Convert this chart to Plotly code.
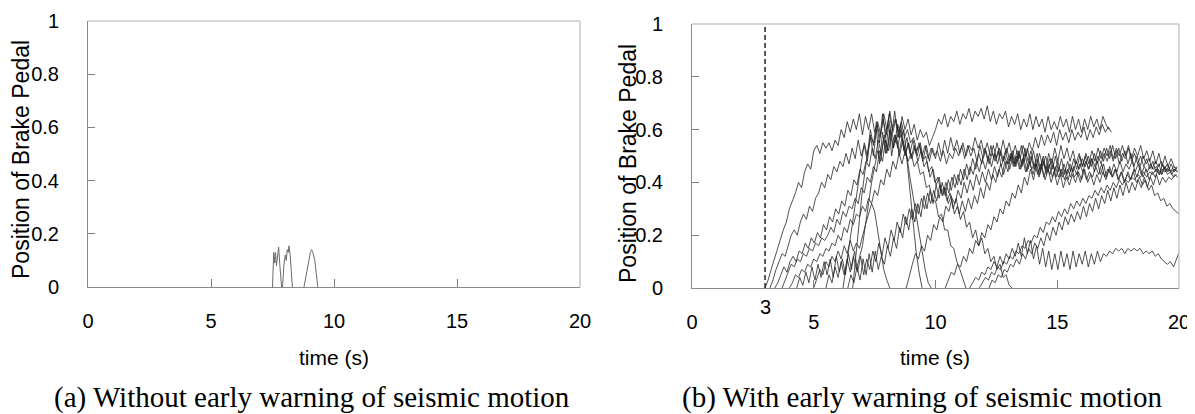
import plotly.graph_objects as go

# ---------------- data ----------------
WARNING_TIME = 3
X_TICKS = [0, 5, 10, 15, 20]
Y_TICKS = [0, 0.2, 0.4, 0.6, 0.8, 1]
Y_TICK_TEXT = ["0", "0.2", "0.4", "0.6", "0.8", "1"]

# (a) without early warning: three short presses (time, position)
a1_t = [7.50, 7.52, 7.55, 7.59, 7.62, 7.66, 7.70, 7.75, 7.80, 7.87]
a1_v = [0.00, 0.12, 0.13, 0.09, 0.13, 0.08, 0.12, 0.15, 0.08, 0.00]
a2_t = [7.91, 7.96, 8.02, 8.06, 8.10, 8.14, 8.17, 8.22, 8.27, 8.31]
a2_v = [0.00, 0.08, 0.12, 0.10, 0.14, 0.13, 0.155, 0.12, 0.05, 0.00]
a3_t = [8.78, 8.85, 8.92, 8.98, 9.04, 9.09, 9.14, 9.18, 9.22, 9.28, 9.34]
a3_v = [0.00, 0.04, 0.07, 0.10, 0.13, 0.14, 0.13, 0.11, 0.10, 0.05, 0.00]

# (b) with early warning: each driver sampled every 0.125 s from its start time
SAMPLE_DT = 0.125
b01_start = 3.0
b01 = [0.00,0.03,0.07,0.11,0.15,0.18,0.22,0.25,
       0.30,0.33,0.36,0.40,0.38,0.44,0.47,0.45,
       0.52,0.54,0.51,0.55,0.53,0.55,0.52,0.56,
       0.54,0.60,0.57,0.63,0.59,0.64,0.60,0.66,
       0.58,0.65,0.60,0.66,0.59,0.63,0.58,0.66,
       0.60,0.67,0.59,0.64,0.57,0.65,0.60,0.64,
       0.58,0.62,0.56,0.60,0.57,0.59,0.54,0.57,
       0.60,0.64,0.62,0.66,0.61,0.65,0.63,0.67,
       0.62,0.66,0.64,0.68,0.63,0.67,0.65,0.68,
       0.64,0.69,0.63,0.67,0.62,0.66,0.64,0.67,
       0.61,0.65,0.62,0.66,0.60,0.64,0.61,0.66,
       0.60,0.65,0.61,0.64,0.59,0.65,0.60,0.63,
       0.60,0.65,0.61,0.64,0.59,0.65,0.60,0.64,
       0.59,0.64,0.60,0.65,0.61,0.64,0.60,0.65,
       0.62,0.60]
b02_start = 3.2
b02 = [0.00,0.03,0.07,0.10,0.13,0.12,0.16,0.20,
       0.22,0.20,0.25,0.28,0.26,0.31,0.29,0.34,
       0.36,0.40,0.38,0.43,0.41,0.46,0.44,0.48,
       0.46,0.51,0.47,0.53,0.49,0.56,0.50,0.54,
       0.48,0.58,0.50,0.60,0.47,0.59,0.51,0.62,
       0.50,0.58,0.53,0.60,0.52,0.57,0.51,0.56,
       0.51,0.55,0.50,0.54,0.49,0.53,0.50,0.52,
       0.48,0.52,0.47,0.51,0.49,0.53,0.50,0.54,
       0.49,0.54,0.50,0.53,0.48,0.54,0.49,0.52,
       0.47,0.51,0.48,0.52,0.46,0.50,0.47,0.51,
       0.46,0.50,0.45,0.49,0.44,0.48,0.45,0.47,
       0.43,0.47,0.42,0.46,0.43,0.47,0.42,0.46,
       0.42,0.45,0.41,0.46,0.42,0.44,0.40,0.45,
       0.41,0.44,0.42,0.46,0.43,0.47,0.42,0.45,
       0.43,0.47,0.44,0.48,0.44,0.47,0.45,0.48,
       0.44,0.47,0.43,0.46,0.44,0.47,0.45,0.46,
       0.43,0.47,0.44,0.46,0.43,0.45,0.44]
b03_start = 3.4
b03 = [0.00,0.02,0.05,0.08,0.06,0.10,0.12,0.10,
       0.14,0.13,0.17,0.15,0.19,0.17,0.21,0.19,
       0.24,0.22,0.27,0.25,0.30,0.28,0.33,0.31,
       0.37,0.35,0.41,0.39,0.45,0.43,0.48,0.46,
       0.53,0.49,0.56,0.51,0.58,0.52,0.60,0.53,
       0.57,0.50,0.56,0.51,0.55,0.49,0.53,0.48,
       0.52,0.46,0.48,0.42,0.45,0.39,0.42,0.35,
       0.38,0.32,0.35,0.28,0.31,0.26,0.29,0.23,
       0.25,0.19,0.22,0.16,0.19,0.13,0.15,0.10,
       0.12,0.07,0.09,0.04,0.05,0.01,0.00]
b04_start = 3.7
b04 = [0.00,0.03,0.06,0.09,0.08,0.11,0.10,0.13,
       0.12,0.15,0.14,0.17,0.16,0.19,0.18,0.20,
       0.23,0.21,0.26,0.24,0.29,0.27,0.31,0.30,
       0.34,0.32,0.38,0.36,0.42,0.40,0.46,0.44,
       0.52,0.48,0.56,0.52,0.59,0.55,0.62,0.57,
       0.60,0.48,0.36,0.25,0.14,0.06,0.00]
b05_start = 4.3
b05 = [0.00,0.04,0.01,0.06,0.02,0.08,0.03,0.09,
       0.04,0.10,0.05,0.11,0.04,0.12,0.06,0.11,
       0.05,0.13,0.07,0.14,0.06,0.12,0.05,0.11,
       0.07,0.14,0.10,0.17,0.12,0.19,0.15,0.22,
       0.18,0.25,0.21,0.28,0.24,0.30,0.26,0.32,
       0.28,0.34,0.30,0.36,0.32,0.37,0.33,0.39,
       0.35,0.40,0.36,0.42,0.38,0.43,0.39,0.45,
       0.41,0.46,0.43,0.48,0.44,0.49,0.45,0.50,
       0.46,0.51,0.47,0.52,0.48,0.53,0.48,0.52,
       0.47,0.52,0.46,0.51,0.45,0.50,0.45,0.49,
       0.44,0.48,0.43,0.47,0.42,0.46,0.42,0.45,
       0.41,0.45,0.42,0.46,0.43,0.47,0.44,0.48,
       0.45,0.49,0.46,0.50,0.47,0.51,0.48,0.52,
       0.48,0.52,0.47,0.51,0.49,0.53,0.48,0.51,
       0.47,0.50,0.46,0.49,0.45,0.48,0.44,0.47,
       0.43,0.46,0.44,0.47,0.44,0.46]
b06_start = 5.5
b06 = [0.00,0.05,0.02,0.08,0.04,0.10,0.05,0.11,
       0.06,0.12,0.07,0.11,0.16,0.24,0.32,0.40,
       0.46,0.52,0.48,0.57,0.51,0.60,0.53,0.58,
       0.51,0.57,0.50,0.55,0.49,0.54,0.50,0.55,
       0.49,0.54,0.48,0.53,0.49,0.55,0.50,0.56,
       0.51,0.57,0.52,0.56,0.51,0.55,0.50,0.54,
       0.52,0.57,0.53,0.56,0.51,0.55,0.50,0.54,
       0.49,0.53,0.48,0.52,0.47,0.51,0.46,0.50,
       0.45,0.49,0.44,0.48,0.43,0.47,0.42,0.46,
       0.41,0.45,0.40,0.44,0.39,0.43,0.38,0.42,
       0.39,0.43,0.40,0.44,0.41,0.45,0.40,0.43,
       0.39,0.43,0.40,0.44,0.41,0.45,0.42,0.45,
       0.41,0.44,0.40,0.43,0.41,0.44,0.40,0.42,
       0.39,0.41,0.37,0.39,0.35,0.36,0.33,0.34,
       0.31,0.32,0.30,0.29,0.28]
b07_start = 6.6
b07 = [0.00,0.12,0.24,0.35,0.44,0.52,0.57,0.55,
       0.62,0.57,0.64,0.58,0.66,0.60,0.64,0.59,
       0.63,0.57,0.60,0.55,0.57,0.52,0.54,0.48,
       0.50,0.44,0.46,0.40,0.42,0.36,0.38,0.33,
       0.36,0.30,0.34,0.28,0.33,0.29,0.34,0.30,
       0.35,0.32,0.38,0.34,0.40,0.37,0.43,0.40,
       0.45,0.42,0.48,0.44,0.50,0.47,0.52,0.49,
       0.54,0.50,0.55,0.52,0.57,0.53,0.58,0.54,
       0.58,0.55,0.59,0.54,0.60,0.56,0.59,0.55,
       0.60,0.56,0.59,0.57,0.61,0.56,0.60,0.57,
       0.61,0.58,0.62,0.59,0.61,0.59]
b08_start = 8.8
b08 = [0.00,0.05,0.09,0.13,0.11,0.16,0.14,0.20,
       0.18,0.24,0.22,0.27,0.25,0.31,0.29,0.34,
       0.32,0.37,0.34,0.40,0.36,0.41,0.37,0.43,
       0.39,0.44,0.40,0.45,0.41,0.46,0.42,0.47,
       0.43,0.48,0.45,0.50,0.46,0.51,0.47,0.53,
       0.48,0.52,0.46,0.51,0.45,0.50,0.44,0.49,
       0.45,0.50,0.44,0.49,0.43,0.48,0.44,0.49,
       0.45,0.50,0.46,0.51,0.47,0.52,0.48,0.53,
       0.49,0.53,0.50,0.54,0.49,0.53,0.50,0.54,
       0.50,0.54,0.49,0.53,0.50,0.54,0.49,0.52,
       0.48,0.52,0.47,0.51,0.46,0.50,0.46,0.49,
       0.46,0.45]
b09_start = 6.2
b09 = [0.00,0.08,0.16,0.24,0.32,0.40,0.48,0.55,
       0.50,0.60,0.54,0.63,0.55,0.66,0.57,0.64,
       0.58,0.67,0.57,0.62,0.54,0.50,0.42,0.35,
       0.28,0.20,0.13,0.07,0.02,0.00]
b10_start = 11.4
b10 = [0.00,0.02,0.04,0.03,0.06,0.05,0.08,0.07,
       0.10,0.08,0.12,0.09,0.13,0.11,0.15,0.12,
       0.17,0.12,0.19,0.13,0.18,0.11,0.16,0.09,
       0.15,0.08,0.14,0.07,0.13,0.07,0.14,0.08,
       0.13,0.07,0.14,0.08,0.13,0.09,0.14,0.08,
       0.13,0.09,0.14,0.10,0.13,0.12,0.14,0.13,
       0.15,0.14,0.15,0.13,0.15,0.14,0.15,0.14,
       0.15,0.13,0.14,0.13,0.14,0.12,0.13,0.11,
       0.10,0.09,0.10,0.08,0.11,0.14,0.16]
b11_start = 11.8
b11 = [0.00,0.02,0.04,0.03,0.06,0.05,0.08,0.07,
       0.10,0.09,0.12,0.11,0.14,0.13,0.16,0.15,
       0.18,0.17,0.20,0.19,0.23,0.21,0.25,0.24,
       0.27,0.25,0.29,0.27,0.30,0.28,0.32,0.30,
       0.33,0.31,0.34,0.32,0.35,0.34,0.37,0.35,
       0.38,0.36,0.39,0.37,0.40,0.38,0.41,0.39,
       0.41,0.40,0.42,0.41,0.43,0.42,0.44,0.42,
       0.44,0.43,0.45,0.43,0.45,0.44,0.45,0.44,
       0.45,0.44]
b12_start = 12.2
b12 = [0.00,0.03,0.02,0.05,0.04,0.07,0.06,0.09,
       0.08,0.11,0.09,0.13,0.11,0.15,0.13,0.17,
       0.15,0.19,0.16,0.21,0.18,0.23,0.20,0.25,
       0.22,0.27,0.24,0.28,0.25,0.29,0.26,0.31,
       0.27,0.32,0.29,0.34,0.30,0.35,0.32,0.37,
       0.33,0.38,0.34,0.39,0.35,0.40,0.36,0.40,
       0.37,0.41,0.38,0.42,0.38,0.42,0.39,0.43,
       0.39,0.42,0.40,0.42,0.41,0.43,0.42]
b13_start = 10.4
b13 = [0.00,0.03,0.06,0.05,0.09,0.08,0.12,0.10,
       0.15,0.13,0.18,0.16,0.21,0.19,0.24,0.22,
       0.27,0.25,0.30,0.28,0.33,0.31,0.36,0.34,
       0.39,0.36,0.42,0.39,0.45,0.41,0.47,0.43,
       0.49,0.45,0.51,0.47,0.53,0.48,0.54,0.49,
       0.53,0.48,0.52,0.47,0.51,0.46,0.50,0.45,
       0.49,0.44,0.48,0.43,0.47,0.42,0.46,0.42,
       0.45,0.41,0.44,0.40,0.44,0.41,0.45,0.42,
       0.46,0.42,0.45,0.41,0.44,0.42,0.45,0.43,
       0.46,0.43,0.44,0.42,0.43]
b14_start = 4.0
b14 = [0.00,0.02,0.05,0.04,0.07,0.06,0.09,0.08,
       0.11,0.10,0.13,0.12,0.15,0.14,0.17,0.16,
       0.20,0.18,0.23,0.21,0.26,0.24,0.28,0.27,
       0.31,0.29,0.34,0.32,0.37,0.35,0.41,0.39,
       0.45,0.42,0.48,0.45,0.51,0.47,0.52,0.48,
       0.51,0.46,0.48,0.43,0.44,0.38,0.39,0.33,
       0.33,0.27,0.28,0.22,0.22,0.16,0.15,0.10,
       0.07,0.03,0.00]
b15_start = 6.4
b15 = [0.00,0.05,0.02,0.08,0.03,0.11,0.05,0.13,
       0.06,0.14,0.07,0.12,0.09,0.16,0.12,0.19,
       0.15,0.23,0.19,0.27,0.22,0.30,0.25,0.32,
       0.27,0.35,0.30,0.37,0.32,0.39,0.34,0.40,
       0.35,0.41,0.37,0.43,0.39,0.45,0.41,0.47,
       0.43,0.49,0.45,0.51,0.47,0.53,0.48,0.54,
       0.49,0.55,0.50,0.56,0.51,0.55,0.50,0.54,
       0.49,0.54,0.48,0.53,0.47,0.52,0.46,0.51,
       0.46,0.50,0.45,0.49,0.44,0.48,0.43,0.47,
       0.43,0.47,0.44,0.48,0.45,0.49,0.46,0.50,
       0.46,0.51,0.47,0.52,0.48,0.53,0.49,0.54,
       0.49,0.53,0.48,0.52,0.47,0.51,0.46,0.50,
       0.46,0.50,0.47,0.49,0.45,0.48,0.46,0.48,
       0.45,0.47,0.44,0.46,0.45]
b16_start = 5.0
b16 = [0.00,0.04,0.07,0.05,0.10,0.08,0.12,0.10,
       0.14,0.11,0.16,0.13,0.18,0.14,0.17,0.15,
       0.20,0.24,0.28,0.32,0.29,0.22,0.14,0.07,
       0.03,0.00]

without_warning = [(a1_t, a1_v), (a2_t, a2_v), (a3_t, a3_v)]
with_warning = [(b01_start, b01), (b02_start, b02), (b03_start, b03), (b04_start, b04),
                (b05_start, b05), (b06_start, b06), (b07_start, b07), (b08_start, b08),
                (b09_start, b09), (b10_start, b10), (b11_start, b11), (b12_start, b12),
                (b13_start, b13), (b14_start, b14), (b15_start, b15), (b16_start, b16)]

# ---------------- figure ----------------
SANS = "Liberation Sans, Arial, sans-serif"
SERIF = "Liberation Serif, Times New Roman, serif"
W, H = 1195, 414          # window size
OFF = 8                   # page body margin
FW, FH = W - OFF, H - OFF  # figure size


def px(x):   # page x -> paper fraction
    return (x - OFF) / FW


def py(y):   # page y -> paper fraction
    return (H - y) / FH


fig = go.Figure()
for t, v in without_warning:
    fig.add_trace(go.Scatter(x=t, y=v, mode="lines", xaxis="x", yaxis="y",
                             line=dict(color="#6a6a6a", width=1),
                             showlegend=False, hoverinfo="skip"))
for t0, vals in with_warning:
    ts = [round(t0 + SAMPLE_DT * i, 4) for i in range(len(vals))]
    fig.add_trace(go.Scatter(x=ts, y=vals, mode="lines", xaxis="x2", yaxis="y2",
                             line=dict(color="#262626", width=0.8),
                             showlegend=False, hoverinfo="skip"))


def xax(domain, anchor):
    return dict(domain=domain, anchor=anchor, range=[0, 20], tickvals=X_TICKS,
                ticks="inside", ticklen=8, tickcolor="#808080", tickwidth=1,
                showline=True, linecolor="#8a8a8a", linewidth=1,
                showgrid=False, zeroline=False, fixedrange=True, automargin=False,
                tickfont=dict(family=SANS, size=20, color="black"),
                ticklabelstandoff=16, ticklabeloverflow="allow")


def yax(domain, anchor):
    return dict(domain=domain, anchor=anchor, range=[0, 1], tickvals=Y_TICKS,
                ticktext=Y_TICK_TEXT, ticks="inside", ticklen=7, tickcolor="#808080",
                tickwidth=1, showline=True, linecolor="#8a8a8a", linewidth=1,
                showgrid=False, zeroline=False, fixedrange=True, automargin=False,
                tickfont=dict(family=SANS, size=20, color="black"),
                ticklabelstandoff=24, ticklabeloverflow="allow")


fig.update_layout(
    width=FW, height=FH,
    margin=dict(l=0, r=0, t=0, b=0, pad=0, autoexpand=False),
    paper_bgcolor="white", plot_bgcolor="white",
    xaxis=xax([px(88), px(580)], "y"),
    yaxis=yax([py(287), py(21)], "x"),
    xaxis2=xax([px(692), px(1179)], "y2"),
    yaxis2=yax([py(288), py(24)], "x2"),
)

# light top / right frame
for xr, yr in (("x", "y"), ("x2", "y2")):
    fig.add_shape(type="line", xref=f"{xr} domain", yref=f"{yr} domain",
                  x0=0, x1=1, y0=1, y1=1, line=dict(color="#c8c8c8", width=1.5))
    fig.add_shape(type="line", xref=f"{xr} domain", yref=f"{yr} domain",
                  x0=1, x1=1, y0=0, y1=1, line=dict(color="#c8c8c8", width=1.5))

# dashed line at warning time
fig.add_shape(type="line", xref="x2", yref="y2 domain", x0=WARNING_TIME, x1=WARNING_TIME,
              y0=0, y1=1, line=dict(color="#222222", width=1.5, dash="5px,3px"))
fig.add_annotation(x=WARNING_TIME, xref="x2", y=py(307), yref="paper",
                   xanchor="center", yanchor="middle",
                   text="3", showarrow=False, font=dict(family=SANS, size=20, color="black"))


def label(x, y, text, font, size, angle=0):
    fig.add_annotation(x=px(x), y=py(y), xref="paper", yref="paper",
                       xanchor="center", yanchor="middle", textangle=angle,
                       text=text, showarrow=False,
                       font=dict(family=font, size=size, color="black"))


label(21, 160, "Position of Brake Pedal", SANS, 23, -90)
label(628, 163, "Position of Brake Pedal", SANS, 23, -90)
label(334, 357, "time (s)", SANS, 21)
label(935, 357, "time (s)", SANS, 21)
label(312, 397, "(a) Without early warning of seismic motion", SERIF, 29)
label(922, 397, "(b) With early warning of seismic motion", SERIF, 29)

fig.write_html("out.html")
